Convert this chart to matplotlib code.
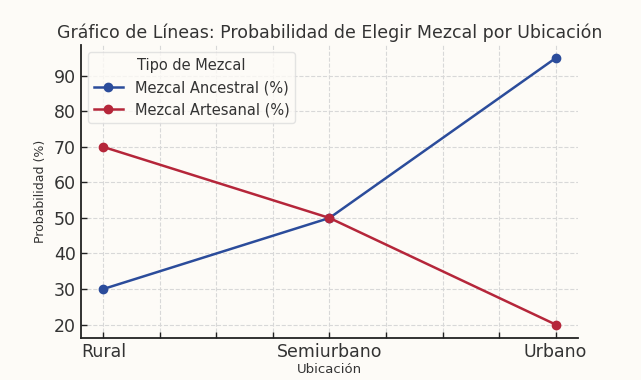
import matplotlib
matplotlib.use("Agg")
import matplotlib.pyplot as plt
from matplotlib.ticker import MultipleLocator

ubicaciones = ["Rural", "Semiurbano", "Urbano"]
ancestral = [30, 50, 95]
artesanal = [70, 50, 20]

bg = "#fdfbf7"
txt = "#333333"
fig = plt.figure(figsize=(6.41, 3.8), dpi=100, facecolor=bg)
ax = fig.add_axes([0.126, 0.111, 0.776, 0.771], facecolor=bg)

x = list(range(len(ubicaciones)))
ax.plot(x, ancestral, marker="o", color="#2b4c9b", lw=1.8, ms=6, label="Mezcal Ancestral (%)")
ax.plot(x, artesanal, marker="o", color="#b5263a", lw=1.8, ms=6, label="Mezcal Artesanal (%)")

ax.set_xticks(x)
ax.set_xticklabels(ubicaciones, fontsize=12.5, color=txt)
ax.xaxis.set_minor_locator(MultipleLocator(0.25))
ax.yaxis.set_major_locator(MultipleLocator(10))
ax.tick_params(axis="both", which="both", direction="in", length=4, width=1, color="#222222")
ax.tick_params(axis="y", labelsize=12.5, labelcolor=txt)
ax.tick_params(axis="x", pad=4)
ax.grid(True, which="both", axis="x", linestyle="--", color="#d8d8d8", lw=0.8)
ax.grid(True, which="major", axis="y", linestyle="--", color="#d8d8d8", lw=0.8)
for s in ["top", "right"]:
    ax.spines[s].set_visible(False)
for s in ["left", "bottom"]:
    ax.spines[s].set_linewidth(1.3)
    ax.spines[s].set_color("#222222")

ax.set_title("Gráfico de Líneas: Probabilidad de Elegir Mezcal por Ubicación", fontsize=12.5, color=txt, pad=5)
ax.set_xlabel("Ubicación", fontsize=9.5, color=txt, labelpad=1)
ax.set_ylabel("Probabilidad (%)", fontsize=9, color=txt, labelpad=5)
leg = ax.legend(title="Tipo de Mezcal", fontsize=10.5, title_fontsize=10.5, loc="upper left",
                facecolor=bg, edgecolor="#dddddd", labelcolor=txt)
leg.get_title().set_color(txt)

fig.savefig("out.png", dpi=100, facecolor=bg)
